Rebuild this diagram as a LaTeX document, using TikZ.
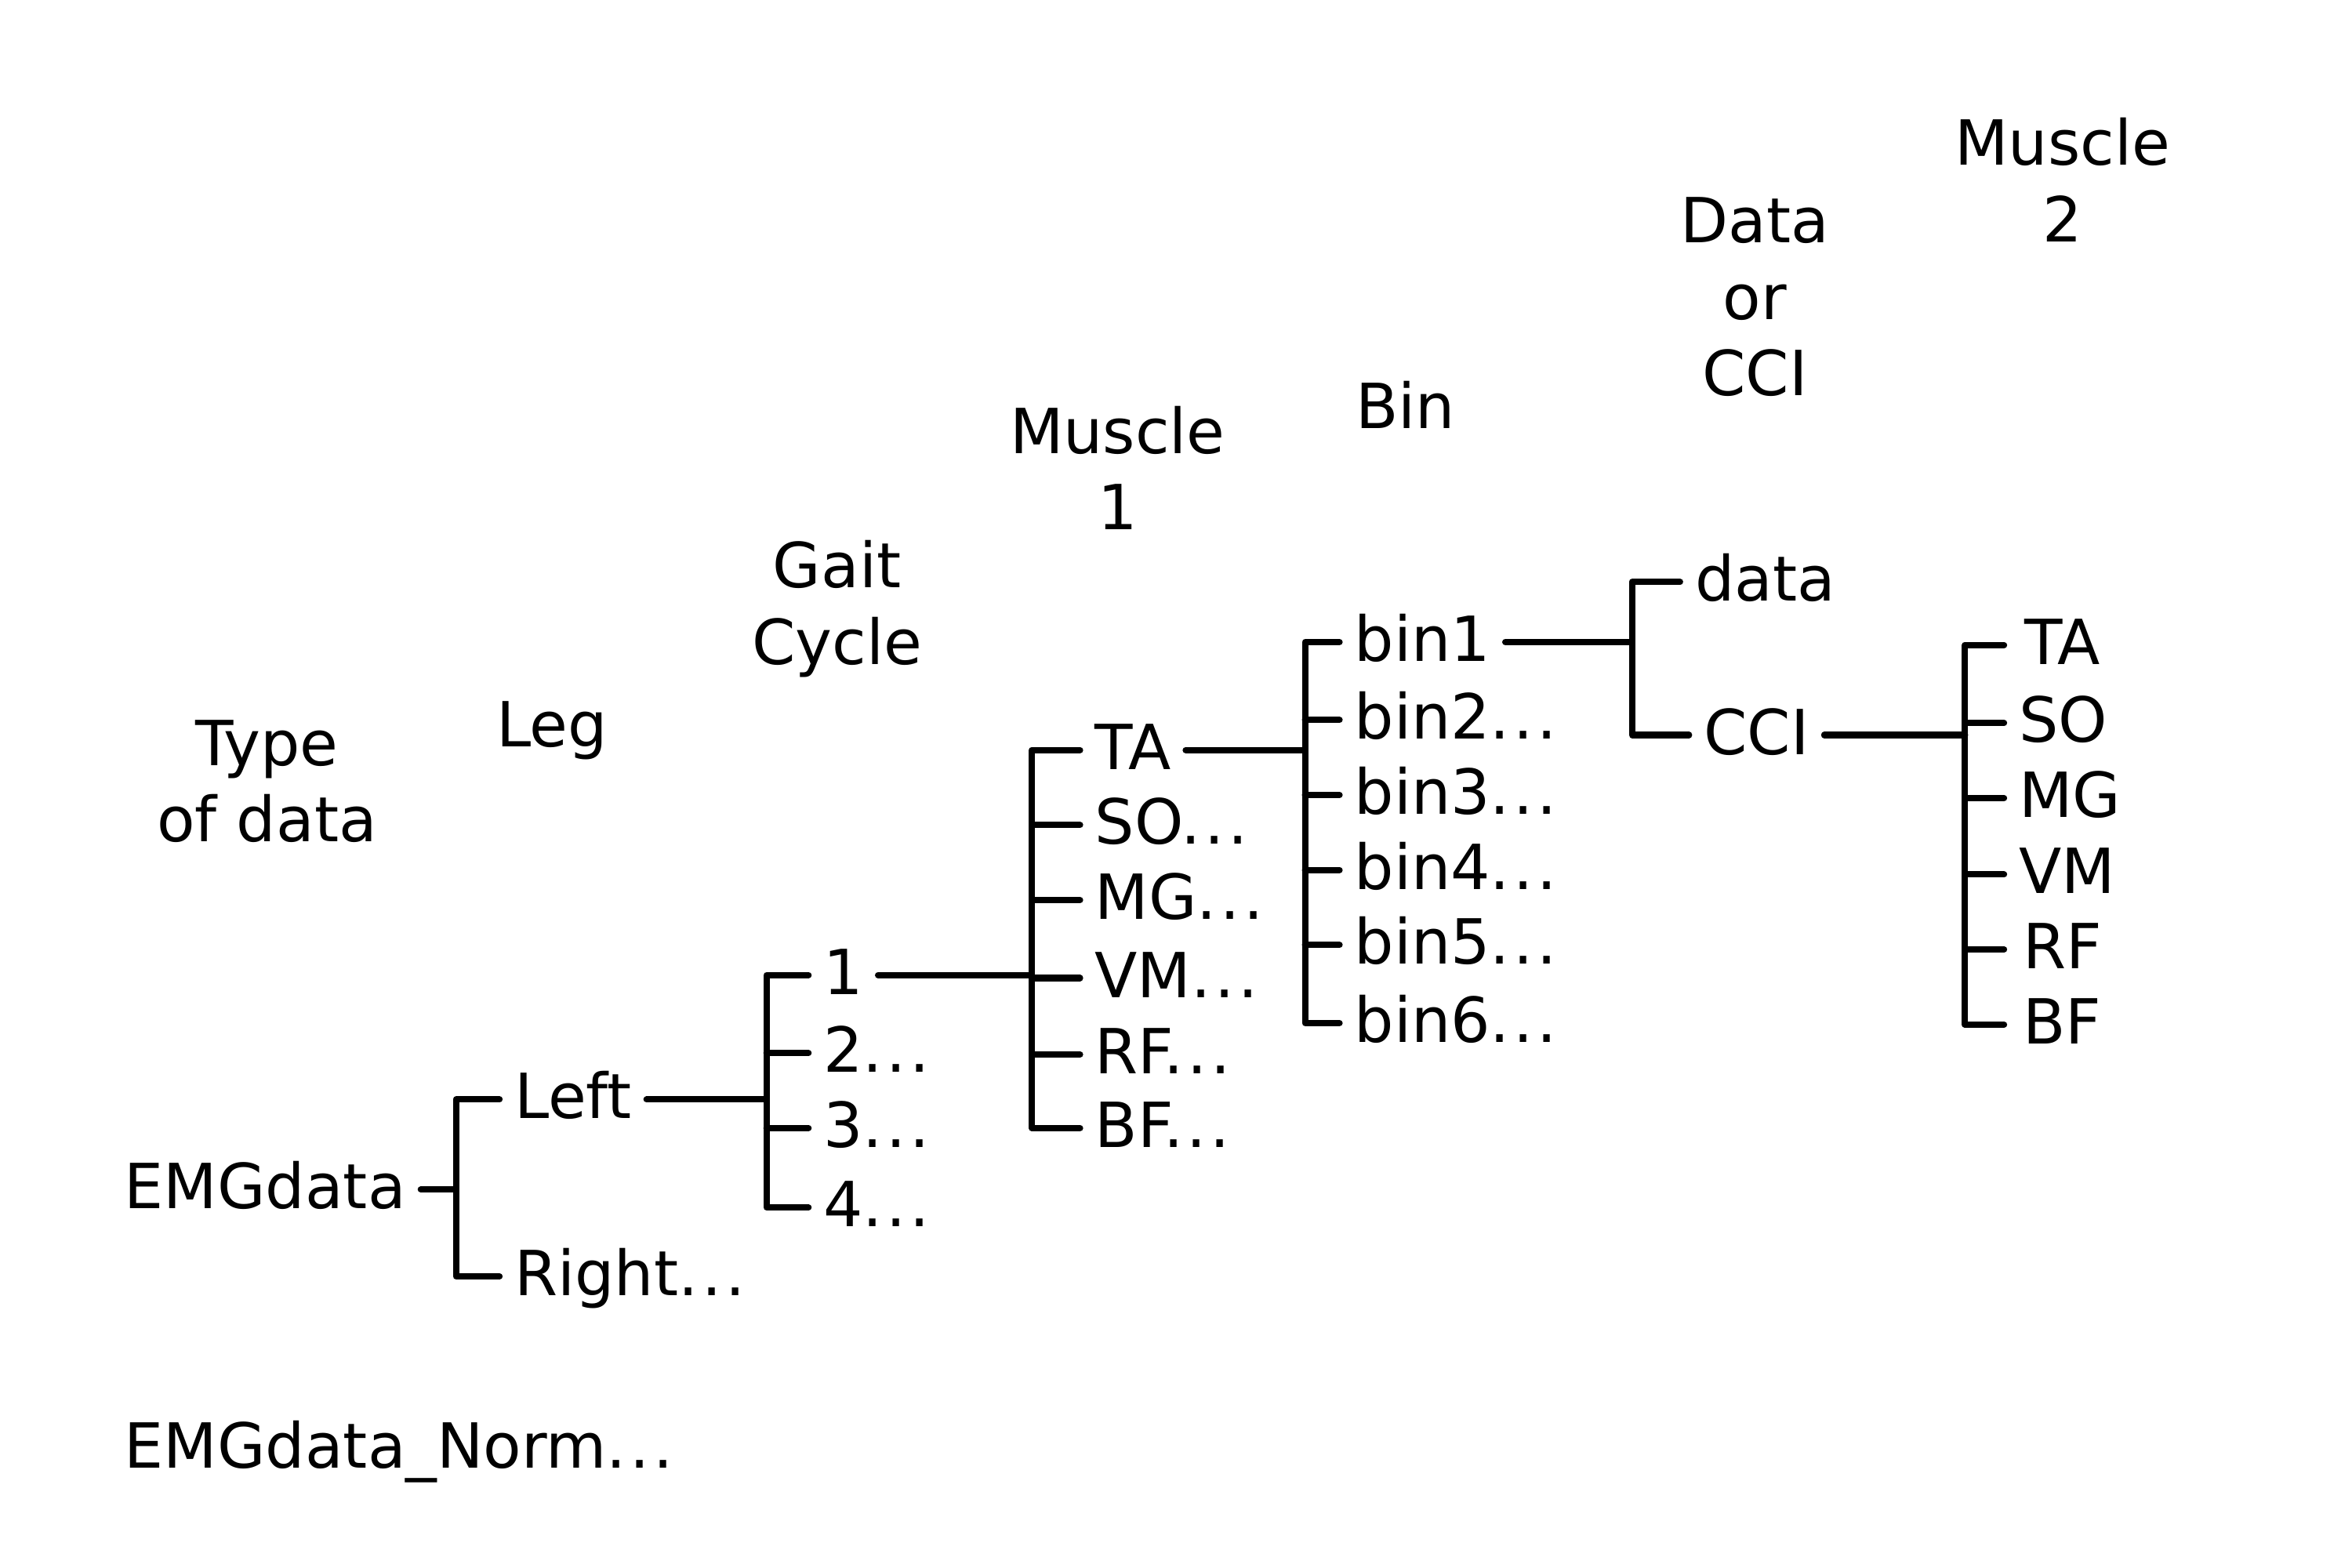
\documentclass[tikz,border=0pt]{standalone}
\usepackage{fontspec}
\setmainfont{DejaVu Sans}

\newcommand{\etc}{.\kern.06em.\kern.06em.}
\tikzset{
  lbl/.style={anchor=west, inner xsep=0.1cm, inner ysep=0pt, outer sep=0pt, text height=0.73em, text depth=0pt},
  hdr/.style={align=center, inner sep=0pt},
  wire/.style={line width=1.2pt, line cap=round, line join=round}
}

\begin{document}
\begin{tikzpicture}[x=1cm, y=-1cm, font=\fontsize{11.8}{14.5}\selectfont]
\useasboundingbox (0,0) rectangle (15.68,10.45);

% level headings
\node[hdr] (htype) at (1.78,5.21) {Type\\of data};
\node[hdr] (hleg) at (3.68,4.87) {Leg};
\node[hdr] (hgait) at (5.58,4.06) {Gait\\Cycle};
\node[hdr] (hmusone) at (7.45,3.12) {Muscle\\1};
\node[hdr] (hbin) at (9.37,2.70) {Bin};
\node[hdr] (hdcci) at (11.70,1.98) {Data\\or\\CCI};
\node[hdr] (hmustwo) at (13.75,1.20) {Muscle\\2};

% type of data
\node[lbl] (emg) at (0.73,7.93) {EMGdata};
\node[lbl] (norm) at (0.73,9.66) {EMGdata\_Norm\etc};
\coordinate (bus1) at (3.04,0);
\draw[wire] (emg.east) -- (emg.east -| bus1);

% leg
\node[lbl] (left) at (3.33,7.33) {Left};
\node[lbl] (right) at (3.33,8.51) {Right\etc};
\draw[wire] (left.west) -| (right.west -| bus1) -- (right.west);
\coordinate (bus2) at (5.11,0);
\draw[wire] (left.east) -- (left.east -| bus2);

% gait cycle
\node[lbl] (gc1) at (5.39,6.50) {1};
\node[lbl] (gc2) at (5.39,7.02) {2\etc};
\node[lbl] (gc3) at (5.39,7.52) {3\etc};
\node[lbl] (gc4) at (5.39,8.05) {4\etc};
\draw[wire] (gc1.west) -| (gc4.west -| bus2) -- (gc4.west);
\draw[wire] (gc2.west) -- (gc2.west -| bus2);
\draw[wire] (gc3.west) -- (gc3.west -| bus2);
\coordinate (bus3) at (6.88,0);
\draw[wire] (gc1.east) -- (gc1.east -| bus3);

% muscle 1
\node[lbl] (ta) at (7.20,5.00) {TA};
\node[lbl] (so) at (7.20,5.50) {SO\etc};
\node[lbl] (mg) at (7.20,6.00) {MG\etc};
\node[lbl] (vm) at (7.20,6.52) {VM\etc};
\node[lbl] (rf) at (7.20,7.03) {RF\etc};
\node[lbl] (bf) at (7.20,7.52) {BF\etc};
\draw[wire] (ta.west) -| (bf.west -| bus3) -- (bf.west);
\draw[wire] (so.west) -- (so.west -| bus3);
\draw[wire] (mg.west) -- (mg.west -| bus3);
\draw[wire] (vm.west) -- (vm.west -| bus3);
\draw[wire] (rf.west) -- (rf.west -| bus3);
\coordinate (bus4) at (8.70,0);
\draw[wire] (ta.east) -- (ta.east -| bus4);

% bins
\node[lbl] (bin1) at (8.93,4.28) {bin1};
\node[lbl] (bin2) at (8.93,4.80) {bin2\etc};
\node[lbl] (bin3) at (8.93,5.30) {bin3\etc};
\node[lbl] (bin4) at (8.93,5.80) {bin4\etc};
\node[lbl] (bin5) at (8.93,6.30) {bin5\etc};
\node[lbl] (bin6) at (8.93,6.82) {bin6\etc};
\draw[wire] (bin1.west) -| (bin6.west -| bus4) -- (bin6.west);
\draw[wire] (bin2.west) -- (bin2.west -| bus4);
\draw[wire] (bin3.west) -- (bin3.west -| bus4);
\draw[wire] (bin4.west) -- (bin4.west -| bus4);
\draw[wire] (bin5.west) -- (bin5.west -| bus4);
\coordinate (bus5) at (10.88,0);
\draw[wire] (bin1.east) -- (bin1.east -| bus5);

% data or cci
\node[lbl] (dat) at (11.20,3.88) {data};
\node[lbl] (cci) at (11.26,4.90) {CCI};
\draw[wire] (dat.west) -| (cci.west -| bus5) -- (cci.west);
\coordinate (bus6) at (13.10,0);
\draw[wire] (cci.east) -- (cci.east -| bus6);

% muscle 2
\tikzset{mtwo/.style={lbl, text width=1.64em, align=center}}
\node[mtwo] (tatwo) at (13.36,4.30) {TA};
\node[mtwo] (sotwo) at (13.36,4.82) {SO};
\node[mtwo] (mgtwo) at (13.36,5.32) {MG};
\node[mtwo] (vmtwo) at (13.36,5.83) {VM};
\node[mtwo] (rftwo) at (13.36,6.33) {RF};
\node[mtwo] (bftwo) at (13.36,6.83) {BF};
\draw[wire] (tatwo.west) -| (bftwo.west -| bus6) -- (bftwo.west);
\draw[wire] (sotwo.west) -- (sotwo.west -| bus6);
\draw[wire] (mgtwo.west) -- (mgtwo.west -| bus6);
\draw[wire] (vmtwo.west) -- (vmtwo.west -| bus6);
\draw[wire] (rftwo.west) -- (rftwo.west -| bus6);

\end{tikzpicture}
\end{document}
